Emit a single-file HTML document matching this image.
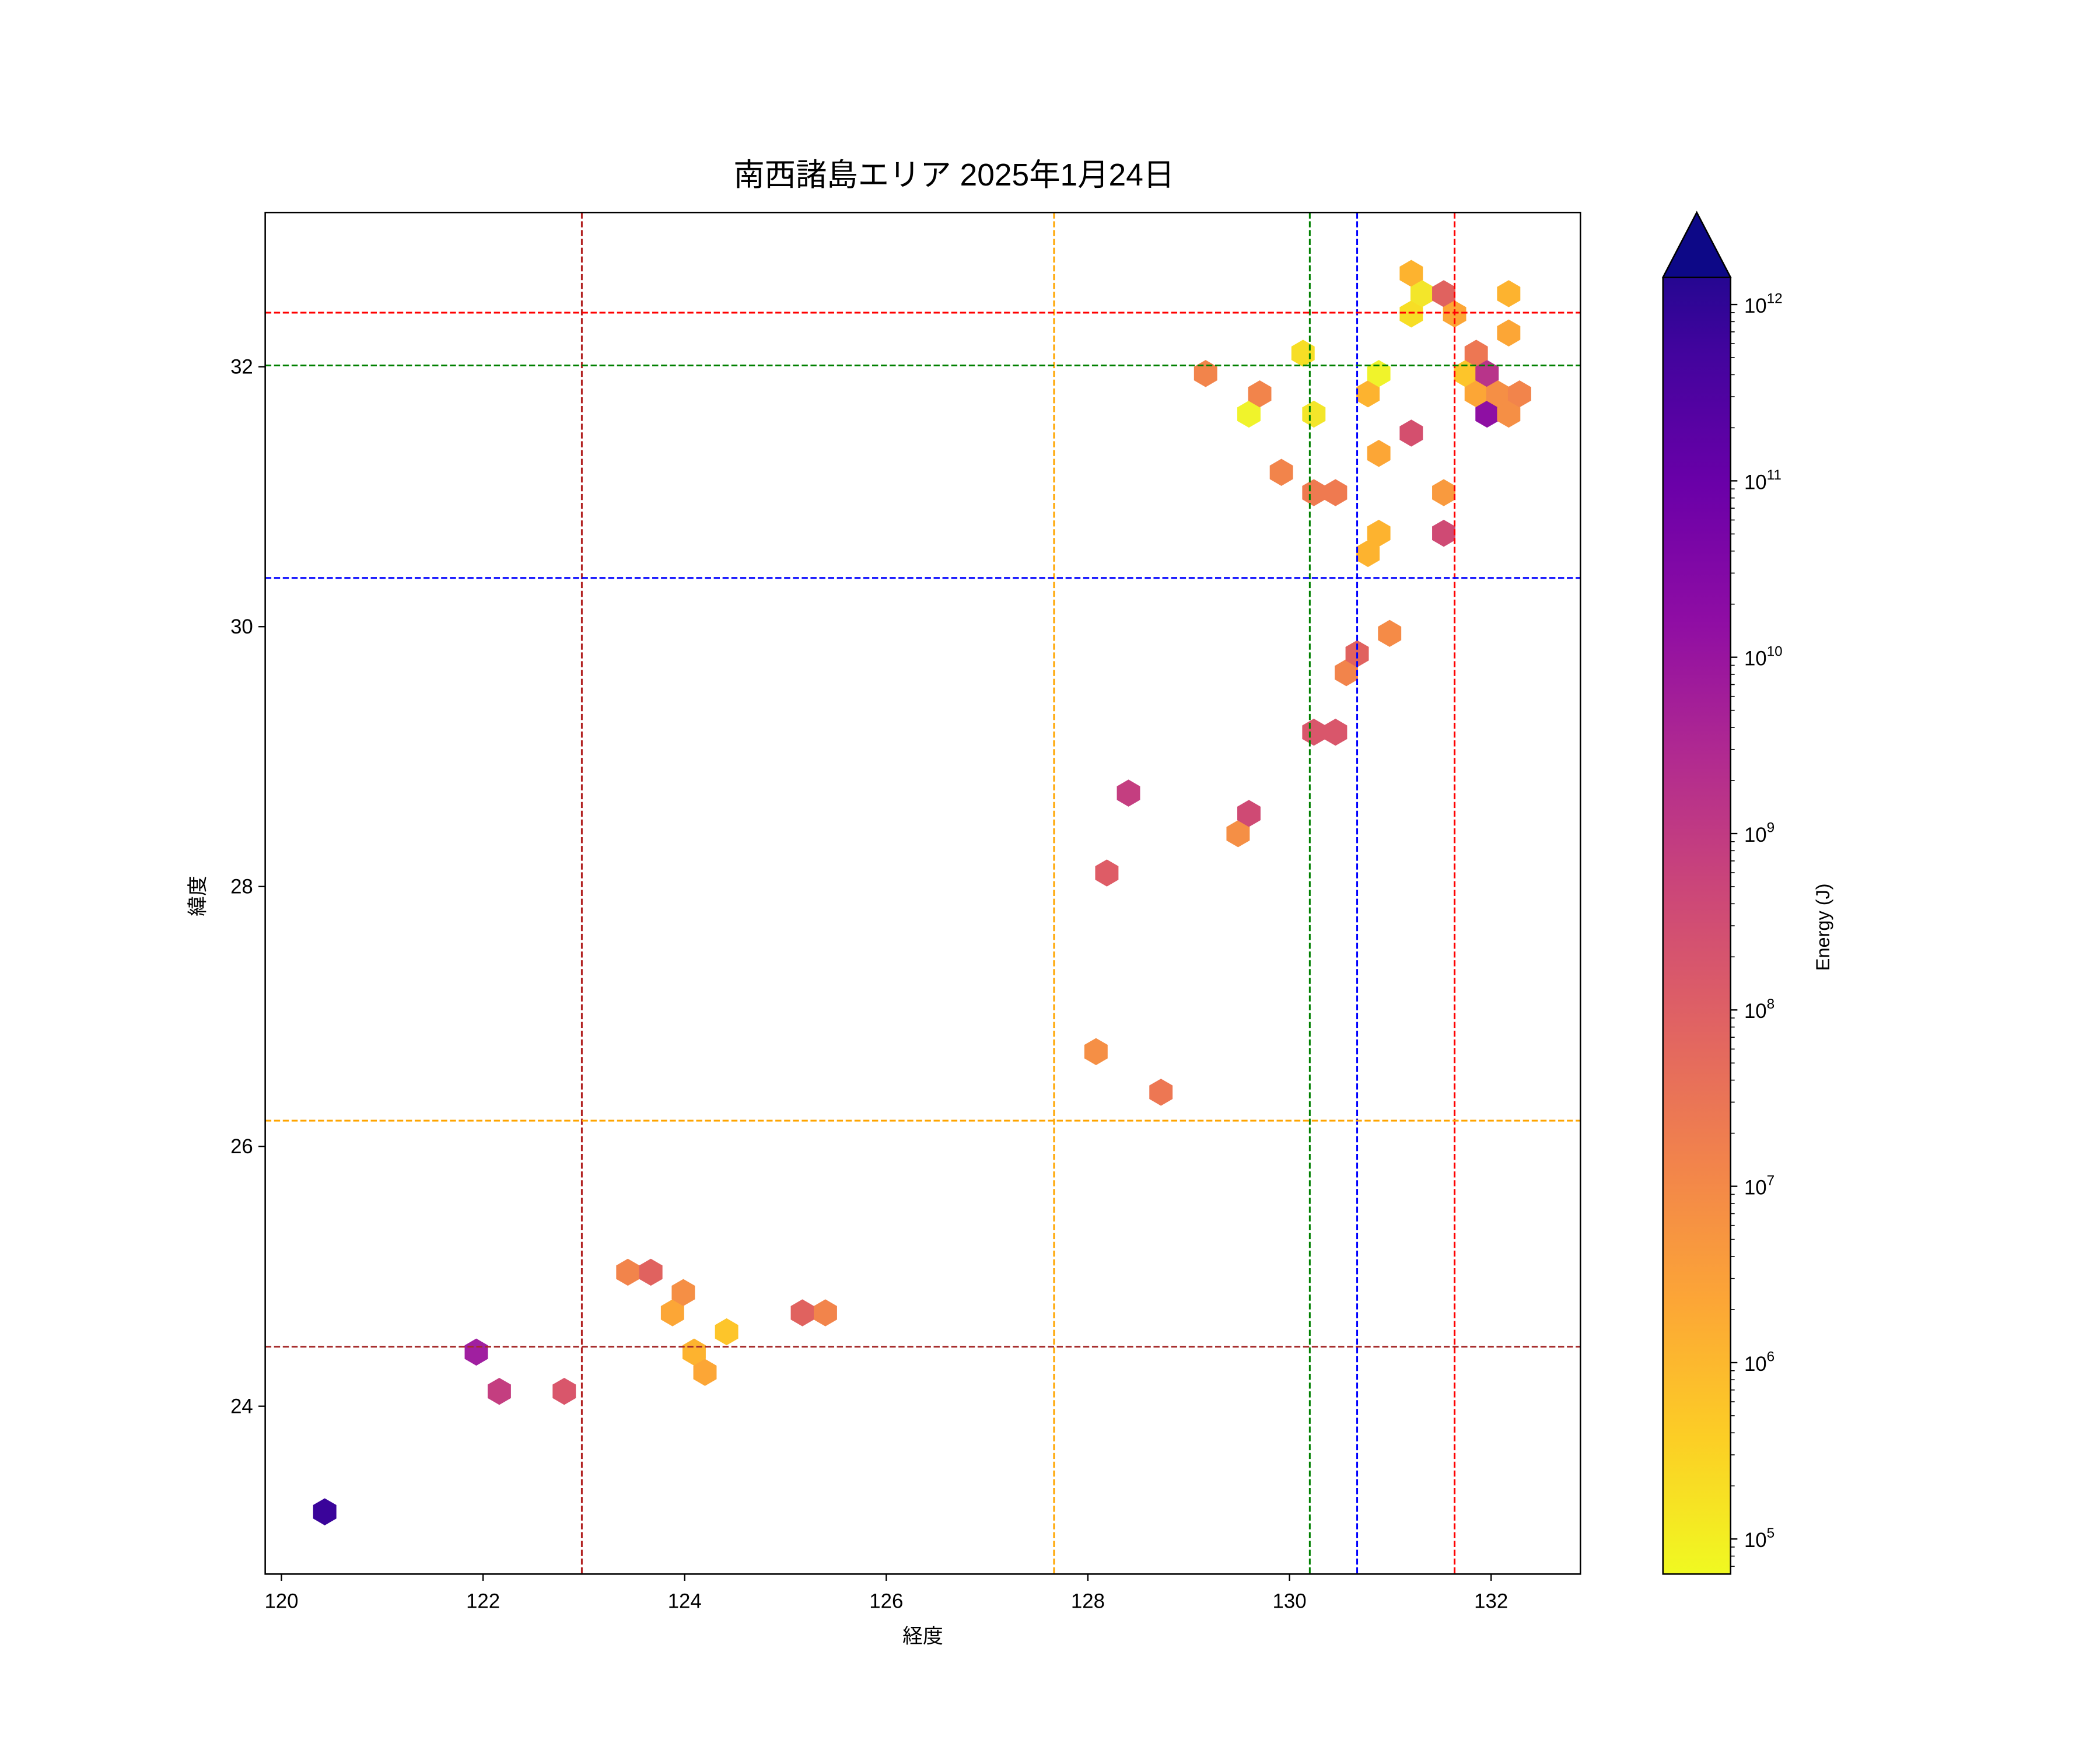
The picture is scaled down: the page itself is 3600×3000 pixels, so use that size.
<!DOCTYPE html>
<html><head><meta charset="utf-8"><style>
html,body{margin:0;padding:0;background:#fff;}
svg{display:block;}
text{font-family:"Liberation Sans","Noto Sans CJK JP",sans-serif;fill:#000;}
</style></head><body>
<svg id="s" width="3600" height="3000" viewBox="0 0 1552 1293" preserveAspectRatio="none" xmlns="http://www.w3.org/2000/svg">
<defs>
<linearGradient id="cm" x1="0" y1="1" x2="0" y2="0">
<stop offset="0" stop-color="#f0f921"/><stop offset="0.1" stop-color="#fcce25"/><stop offset="0.2" stop-color="#fca636"/><stop offset="0.3" stop-color="#f2844b"/><stop offset="0.4" stop-color="#e16462"/><stop offset="0.5" stop-color="#cc4778"/><stop offset="0.6" stop-color="#b12a90"/><stop offset="0.7" stop-color="#8f0da4"/><stop offset="0.8" stop-color="#6a00a8"/><stop offset="0.9" stop-color="#41049d"/><stop offset="1" stop-color="#0d0887"/>
</linearGradient>
<polygon id="h" points="0,-10 8.6,-5 8.6,5 0,10 -8.6,5 -8.6,-5"/>
</defs>
<rect x="0" y="0" width="1552" height="1293" fill="#fff"/>
<g id="hex"></g>
<g id="lines" fill="none" stroke-width="1.3" stroke-dasharray="4.5,2">
<line x1="430" y1="157" x2="430" y2="1163" stroke="#b22222"/>
<line x1="779" y1="157" x2="779" y2="1163" stroke="#ffa500"/>
<line x1="968" y1="157" x2="968" y2="1163" stroke="#008000"/>
<line x1="1003" y1="157" x2="1003" y2="1163" stroke="#0000ff"/>
<line x1="1075" y1="157" x2="1075" y2="1163" stroke="#ff0000"/>
<line x1="196" y1="231" x2="1168" y2="231" stroke="#ff0000"/>
<line x1="196" y1="270" x2="1168" y2="270" stroke="#008000"/>
<line x1="196" y1="427" x2="1168" y2="427" stroke="#0000ff"/>
<line x1="196" y1="828" x2="1168" y2="828" stroke="#ffa500"/>
<line x1="196" y1="995" x2="1168" y2="995" stroke="#a52a2a"/>
</g>
<rect x="196" y="157" width="972" height="1006" fill="none" stroke="#000" stroke-width="1.1"/>
<g id="ticks" stroke="#000" stroke-width="1"></g>
<g id="labels" font-size="15"></g>
<text x="682" y="1214" font-size="15" text-anchor="middle">経度</text>
<text transform="translate(151,662) rotate(-90)" font-size="15" text-anchor="middle">緯度</text>
<text x="705" y="137" font-size="23" text-anchor="middle">南西諸島エリア 2025年1月24日</text>
<polygon points="1229,1163 1229,205 1254,157 1279,205 1279,1163" fill="url(#cm)" stroke="#000" stroke-width="1.1"/>
<polygon points="1229,205 1254,157 1279,205" fill="#0d0887" stroke="#000" stroke-width="1.1"/>
<text transform="translate(1352,685) rotate(-90)" font-size="14" text-anchor="middle">Energy (J)</text>
</svg>
<script>
var NS="http://www.w3.org/2000/svg",s=document.getElementById('s');
function el(p,t,a,txt){var e=document.createElementNS(NS,t);for(var k in a)e.setAttribute(k,a[k]);if(txt!==undefined)e.textContent=txt;document.getElementById(p).appendChild(e);return e;}
var H=[[240,1117,"#3a049a"],[352,999,"#a01fa0"],[369,1028,"#c43e80"],[417,1028,"#d9566b"],[464,940,"#f2844b"],[481,940,"#e0625f"],[497,970,"#fca636"],[505,955,"#f58f45"],[513,999,"#fdb32f"],[521,1014,"#fca636"],[537,984,"#fdc52a"],[593,970,"#e0625f"],[610,970,"#f2844b"],[810,777,"#f58f45"],[818,645,"#de5c66"],[834,586,"#c43e80"],[858,807,"#ed7753"],[915,616,"#f58f45"],[923,601,"#cf4a74"],[891,276,"#f2844b"],[923,306,"#f0f32b"],[931,291,"#f2844b"],[947,349,"#f2844b"],[963,261,"#f7de25"],[971,306,"#f3e62a"],[971,364,"#ef7a50"],[987,364,"#ef7a50"],[971,541,"#d9566b"],[987,541,"#d9566b"],[995,497,"#f2844b"],[1003,483,"#e0625f"],[1027,468,"#f58b47"],[1011,291,"#fdb32f"],[1019,276,"#f0f32b"],[1019,335,"#fca636"],[1019,394,"#fdb32f"],[1011,409,"#fdb32f"],[1043,202,"#fdb32f"],[1043,232,"#f7de25"],[1051,217,"#f3e62a"],[1043,320,"#d44f6e"],[1067,217,"#e0625f"],[1075,232,"#fca636"],[1067,364,"#f99a3e"],[1067,394,"#cf4a74"],[1083,276,"#fdc52a"],[1091,261,"#ed7753"],[1091,291,"#fca636"],[1099,276,"#b8348a"],[1099,306,"#8e0fa3"],[1107,291,"#f58f45"],[1115,217,"#fdb32f"],[1115,246,"#fca636"],[1115,306,"#f58f45"],[1123,291,"#f2844b"]];
H.forEach(function(h){el('hex','use',{href:'#h',x:h[0],y:h[1],fill:h[2]});});
for(var i=0;i<7;i++){var x=208+i*149;el('ticks','line',{x1:x,y1:1163,x2:x,y2:1168});el('labels','text',{x:x,y:1188,'text-anchor':'middle'},String(120+2*i));}
for(var i=0;i<5;i++){var y=1039-i*192;el('ticks','line',{x1:191,y1:y,x2:196,y2:y});el('labels','text',{x:187,y:y+5,'text-anchor':'end'},String(24+2*i));}
var D=130.3,Y12=225;
for(var e=4;e<=12;e++){
 var y0=Y12+(12-e)*D;
 if(e>=5){el('ticks','line',{x1:1279,y1:y0,x2:1284,y2:y0});
  var t=el('labels','text',{x:1289,y:y0+6});
  var a=document.createElementNS(NS,'tspan');a.textContent='10';t.appendChild(a);
  var b=document.createElementNS(NS,'tspan');b.setAttribute('dy','-7');b.setAttribute('font-size','10.5');b.textContent=String(e);t.appendChild(b);}
 for(var m=2;m<10;m++){var y=y0-Math.log10(m)*D;if(y>205&&y<1163)el('ticks','line',{x1:1279,y1:y,x2:1282,y2:y,'stroke-width':0.7});}
}
</script>
</body></html>
